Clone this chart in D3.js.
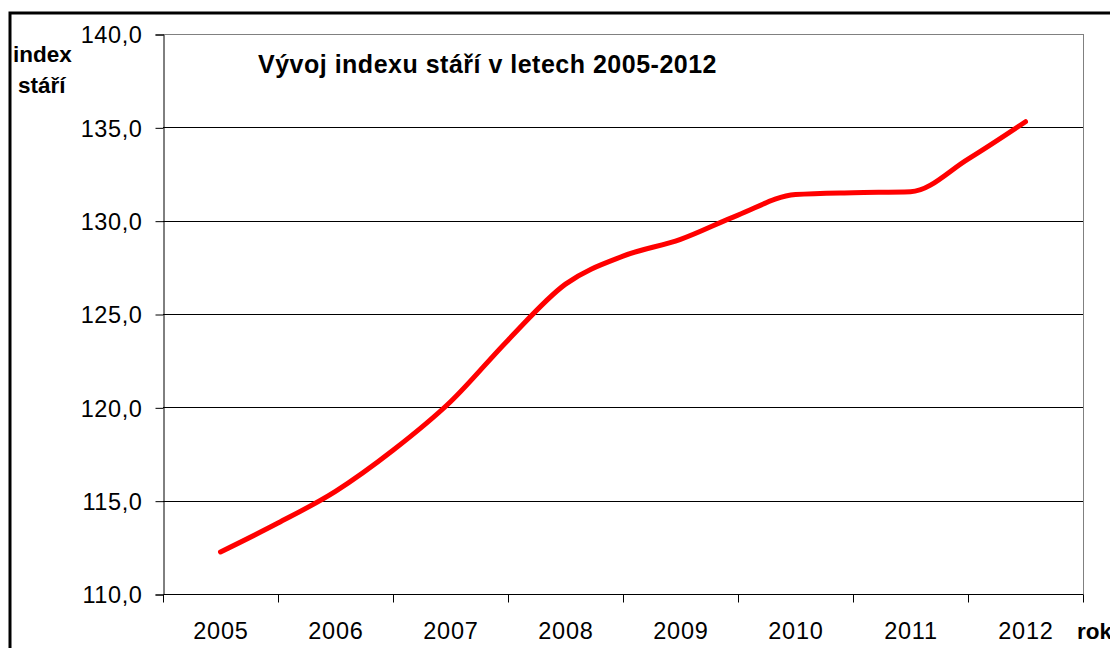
<!DOCTYPE html>
<html><head><meta charset="utf-8">
<script src="https://cdn.jsdelivr.net/npm/d3@7"></script>
<style>
html,body{margin:0;padding:0;background:#fff;}
svg{display:block;font-family:"Liberation Sans",Arial,sans-serif;}
</style></head>
<body>
<svg id="chart" width="1110" height="648"></svg>
<script>
const years = [2005, 2006, 2007, 2008, 2009, 2010, 2011, 2012];
const periods = [2005, 2005.5, 2006, 2006.5, 2007, 2007.5, 2008, 2008.5, 2009, 2009.5, 2010, 2010.5, 2011, 2011.5, 2012];
const values = [112.25, 113.8, 115.5, 117.7, 120.3, 123.6, 126.6, 128.1, 129.0, 130.3, 131.4, 131.5, 131.55, 133.3, 135.3];
const yTicks = [110, 115, 120, 125, 130, 135, 140];
const title = "Vývoj indexu stáří v letech 2005-2012";

const svg = d3.select("#chart");
const L = 163, R = 1083, T = 34, B = 594;

// outer frame
svg.append("rect").attr("x", 10).attr("y", 13).attr("width", 1120).attr("height", 660)
  .attr("fill", "none").attr("stroke", "#000").attr("stroke-width", 3);

const x = d3.scaleLinear().domain([years[0] - 0.5, years[years.length - 1] + 0.5]).range([L, R]);
const y = d3.scaleLinear().domain([110, 140]).range([B, T]);

// gridlines
svg.append("g").selectAll("line").data(yTicks.filter(v => v > 110 && v < 140)).join("line")
  .attr("x1", L).attr("x2", R).attr("y1", d => Math.round(y(d)) + 0.5).attr("y2", d => Math.round(y(d)) + 0.5)
  .attr("stroke", "#000").attr("stroke-width", 1);

// plot border top/right
svg.append("line").attr("x1", L).attr("x2", R + 0.5).attr("y1", T + 0.5).attr("y2", T + 0.5).attr("stroke", "#808080");
svg.append("line").attr("x1", R + 0.5).attr("x2", R + 0.5).attr("y1", T).attr("y2", B).attr("stroke", "#808080");

// y axis
const yAxis = d3.axisLeft(y).tickValues(yTicks).tickSize(8).tickPadding(13)
  .tickFormat(d => d3.format(".1f")(d).replace(".", ","));
const gy = svg.append("g").attr("transform", `translate(${L + 0.5},0.5)`).call(yAxis);
gy.select(".domain").attr("stroke", "#000");
gy.selectAll(".tick line").attr("stroke", "#000");
gy.selectAll(".tick text").attr("font-size", 23.5).attr("fill", "#000").attr("letter-spacing", 0.6)
  .attr("font-family", "Liberation Sans, Arial, sans-serif").attr("dy", "0.35em");

// x axis
const gx = svg.append("g").attr("transform", `translate(0.5,${B + 0.5})`);
gx.append("line").attr("x1", L).attr("x2", R).attr("stroke", "#000");
const bounds = d3.range(years.length + 1).map(i => years[0] - 0.5 + i);
gx.selectAll("line.tk").data(bounds).join("line").attr("class", "tk")
  .attr("x1", d => Math.round(x(d))).attr("x2", d => Math.round(x(d))).attr("y1", 0).attr("y2", 8)
  .attr("stroke", "#000");
gx.selectAll("text").data(years).join("text")
  .attr("x", d => x(d)).attr("y", 44).attr("text-anchor", "middle").attr("letter-spacing", 0.8)
  .attr("font-size", 23.5).attr("fill", "#000").text(d => d);

// line
const line = d3.line().x((d, i) => x(periods[i])).y(d => y(d)).curve(d3.curveMonotoneX);
svg.append("path").datum(values).attr("d", line)
  .attr("fill", "none").attr("stroke", "#ff0000").attr("stroke-width", 5)
  .attr("stroke-linecap", "round").attr("stroke-linejoin", "round");

// title
svg.append("text").attr("x", 258).attr("y", 73).attr("font-size", 25).attr("font-weight", "bold")
  .attr("letter-spacing", 0.5).attr("fill", "#000").text(title);

// axis titles
svg.append("text").attr("x", 13).attr("y", 62).attr("font-size", 22.5).attr("font-weight", "bold").text("index");
svg.append("text").attr("x", 18).attr("y", 93).attr("font-size", 22.5).attr("font-weight", "bold").text("stáří");
svg.append("text").attr("x", 1077).attr("y", 639).attr("font-size", 22.5).attr("font-weight", "bold").text("rok");
</script>
</body></html>
